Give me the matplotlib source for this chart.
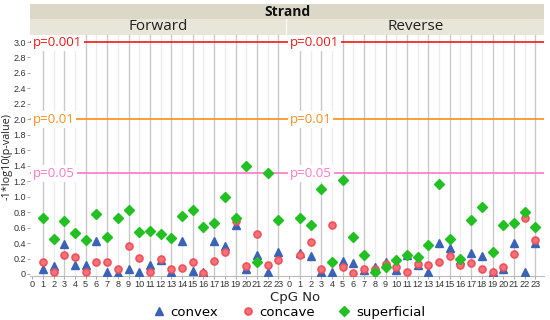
import matplotlib
matplotlib.use("Agg")
import matplotlib.pyplot as plt
from matplotlib.patches import Rectangle
from matplotlib.lines import Line2D

plt.rcParams['font.family'] = ['Open Sans', 'DejaVu Sans']

cpg = list(range(1, 24))
strands = ["Forward", "Reverse"]

fwd_convex = [0.06, 0.10, 0.39, 0.12, 0.12, 0.43, 0.03, 0.01, 0.06, 0.03, 0.11, 0.18, 0.03, 0.43, 0.04,
              0.03, 0.43, 0.36, 0.63, 0.07, 0.25, 0.03, 0.28]
fwd_concave = [0.16, 0.03, 0.24, 0.22, 0.02, 0.16, 0.15, 0.06, 0.36, 0.21, 0.02, 0.20, 0.065, 0.077, 0.155,
               0.01, 0.17, 0.28, 0.69, 0.107, 0.515, 0.12, 0.175]
fwd_superficial = [0.73, 0.45, 0.69, 0.53, 0.44, 0.78, 0.48, 0.73, 0.83, 0.545, 0.56, 0.515, 0.46, 0.75, 0.83,
                   0.605, 0.665, 1.00, 0.73, 1.40, 0.16, 1.305, 0.70]

rev_convex = [0.27, 0.23, 0.02, 0.02, 0.17, 0.14, 0.05, 0.095, 0.16, 0.05, 0.24, 0.12, 0.03, 0.40, 0.33,
              0.18, 0.275, 0.23, 0.02, 0.06, 0.40, 0.03, 0.40]
rev_concave = [0.245, 0.42, 0.07, 0.63, 0.095, 0.01, 0.07, 0.07, 0.125, 0.095, 0.02, 0.125, 0.12, 0.15, 0.23,
               0.12, 0.14, 0.065, 0.02, 0.085, 0.255, 0.73, 0.44]
rev_superficial = [0.73, 0.63, 1.10, 0.16, 1.22, 0.48, 0.24, 0.02, 0.095, 0.18, 0.25, 0.22, 0.375, 1.16, 0.45,
                   0.20, 0.70, 0.86, 0.28, 0.64, 0.665, 0.80, 0.61]

ref_values = [3.0, 2.0, 1.30103]
ref_labels = ["p=0.001", "p=0.01", "p=0.05"]
ref_colors = ["#f01818", "#ff8c1a", "#ff77cc"]

xticks = list(range(0, 24))
yticks = [0, 0.2, 0.4, 0.6, 0.8, 1.0, 1.2, 1.4, 1.6, 1.8, 2.0, 2.2, 2.4, 2.6, 2.8, 3.0]
ytick_labels = ["0"] + [f"{v:.1f}" for v in yticks[1:]]

C_BLUE = "#3a63b8"
C_RED = "#f0505a"
C_GREEN = "#22c022"
NARROW = ['Liberation Sans Narrow', 'Liberation Sans', 'DejaVu Sans']
PLAIN = ['DejaVu Sans']

W, H = 550, 320
fig = plt.figure(figsize=(W / 100, H / 100), dpi=100)

def fx(px):
    return px / W

def fy(py):
    return 1 - py / H

ax_left_px = [30, 287]
ax_w_px = 257
ax_top_px, ax_bot_px = 35, 276

data = {
    "Forward": (fwd_convex, fwd_concave, fwd_superficial),
    "Reverse": (rev_convex, rev_concave, rev_superficial),
}

axes = []
for i, s in enumerate(strands):
    ax = fig.add_axes([fx(ax_left_px[i]), fy(ax_bot_px), fx(ax_w_px), (ax_bot_px - ax_top_px) / H])
    axes.append(ax)
    ax.set_xlim(-0.2, 23.8)
    ax.set_ylim(-0.026, 3.091)
    for k in cpg:
        ax.axvline(k, color="#c9c9c9" if k % 2 == 1 else "#ececec", lw=1.0, zorder=0)
    conv, conc, sup = data[s]
    ax.plot(cpg, conv, ls="none", marker="^", ms=6.0, mfc=C_BLUE, mec=C_BLUE, zorder=3)
    ax.plot(cpg, conc, ls="none", marker="o", ms=5.0, mfc="#f5717a", mec=C_RED, mew=1.2, zorder=4)
    ax.plot(cpg, sup, ls="none", marker="D", ms=4.8, mfc=C_GREEN, mec=C_GREEN, zorder=5)
    for v, lab, c in zip(ref_values, ref_labels, ref_colors):
        ax.axhline(v, color=c, lw=1.2, zorder=2)
        ax.text(0.05, v, lab, color=c, fontsize=9.5, va="center", ha="left", zorder=6,
                bbox=dict(boxstyle="square,pad=0.15", fc="white", ec="none"))
    ax.set_xticks(xticks)
    ax.set_xticklabels([str(t) for t in xticks], fontsize=6.6, color="#333333", family=NARROW)
    ax.set_yticks(yticks)
    ax.tick_params(axis="both", length=2.0, width=0.6, color="#999999", pad=0.8)
    if i == 0:
        ax.set_yticklabels(ytick_labels, fontsize=6.5, color="#333333", family=NARROW)
    else:
        ax.set_yticklabels([])
        ax.tick_params(axis="y", length=0)
    for sp in ax.spines.values():
        sp.set_visible(False)
    ax.spines["bottom"].set_visible(True)
    ax.spines["bottom"].set_color("#bbbbbb")

fig.text(fx(7), fy(156), "-1*log10(p-value)", fontsize=7.8, rotation=90, ha="center", va="center",
         color="#222222")

# header bands
hdr_left, hdr_right = 30, 544
fig.patches.append(Rectangle((fx(hdr_left), fy(19)), fx(hdr_right - hdr_left), (19 - 4) / H,
                             transform=fig.transFigure, fc="#dcd8c7", ec="none"))
for i in range(2):
    fig.patches.append(Rectangle((fx(ax_left_px[i]), fy(35)), fx(ax_w_px - (1 if i == 0 else 0)), (35 - 19) / H,
                                 transform=fig.transFigure, fc="#e8e5d9", ec="none"))
fig.text(fx((hdr_left + hdr_right) / 2), fy(11.5), "Strand", fontsize=10, fontweight="bold",
         ha="center", va="center", color="#111111")
for i, s in enumerate(strands):
    fig.text(fx(ax_left_px[i] + ax_w_px / 2), fy(27), s, fontsize=11, ha="center", va="center",
             color="#222222")

fig.text(fx(295), fy(297), "CpG No", fontsize=9.5, ha="center", va="center", color="#222222",
         family=PLAIN)

handles = [
    Line2D([], [], ls="none", marker="^", ms=6.0, mfc=C_BLUE, mec=C_BLUE),
    Line2D([], [], ls="none", marker="o", ms=5.0, mfc="#f5717a", mec=C_RED, mew=1.2),
    Line2D([], [], ls="none", marker="D", ms=4.8, mfc=C_GREEN, mec=C_GREEN),
]
fig.legend(handles, ["convex", "concave", "superficial"], loc="center", bbox_to_anchor=(fx(288), fy(312.6)),
           ncol=3, frameon=False, prop={"family": PLAIN, "size": 9.5}, handletextpad=0.3,
           columnspacing=1.6, borderaxespad=0, borderpad=0, handlelength=1.2)

fig.savefig("out.png", dpi=100)
